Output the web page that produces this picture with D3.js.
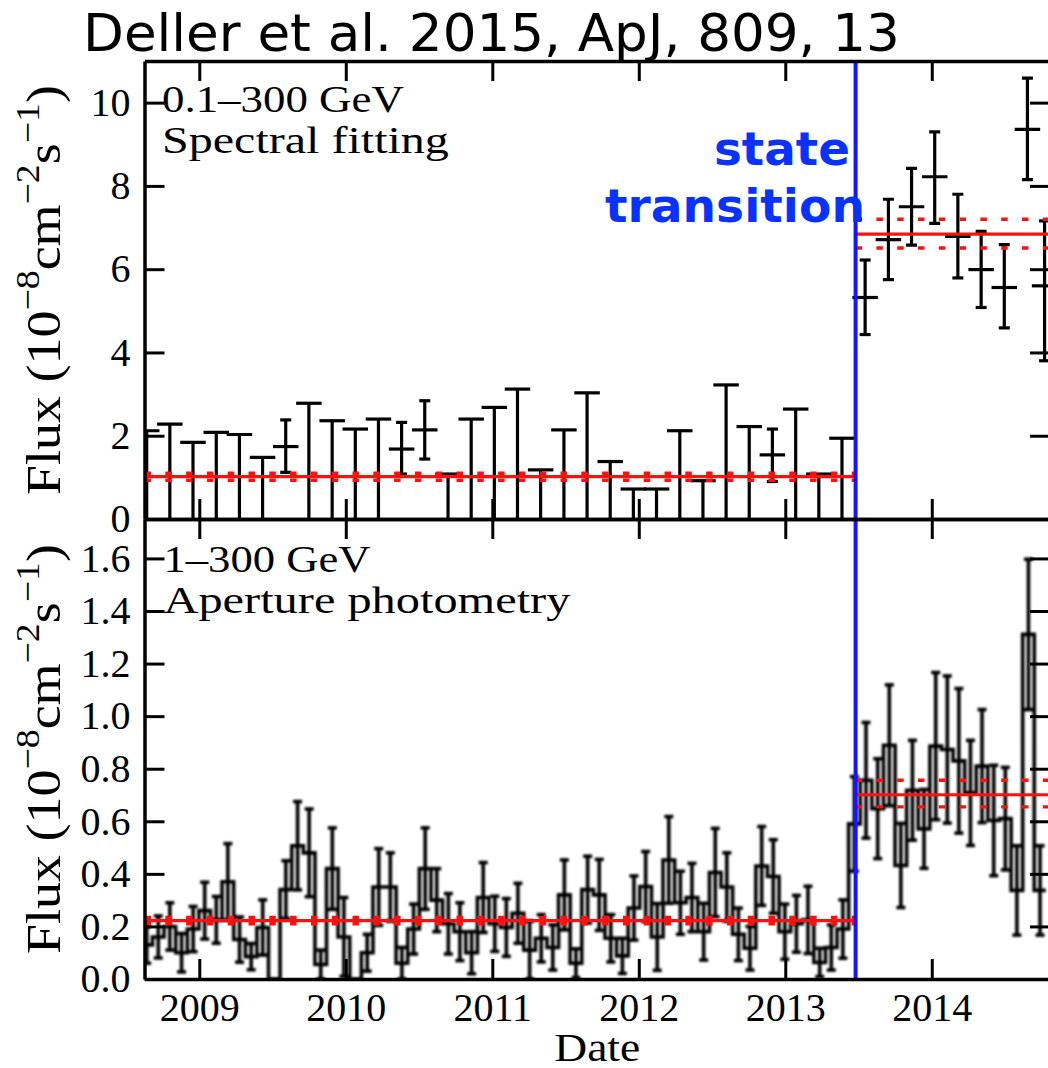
<!DOCTYPE html>
<html>
<head>
<meta charset="utf-8">
<script src="https://cdn.jsdelivr.net/npm/d3@7"></script>
<style>
  html, body { margin: 0; padding: 0; background: #ffffff; }
  svg { display: block; }
</style>
</head>
<body>
<svg id="chart" width="1048" height="1068"></svg>
<script>
// ---------------------------------------------------------------
// Fermi-LAT light curve of the transitional system (two panels)
// ---------------------------------------------------------------

const yearTicks = [2009, 2010, 2011, 2012, 2013, 2014];
const topTicks = [0, 2, 4, 6, 8, 10];
const bottomTicks = [0.0, 0.2, 0.4, 0.6, 0.8, 1.0, 1.2, 1.4, 1.6];
const transitionDate = 2013.48;

// 0.1-300 GeV, spectral fitting (lower == null marks an upper limit)
const specDates = [2008.641, 2008.799, 2008.957, 2009.116, 2009.274, 2009.432, 2009.590, 2009.748,
  2009.907, 2010.065, 2010.223, 2010.381, 2010.539, 2010.698, 2010.856, 2011.014, 2011.172, 2011.330,
  2011.489, 2011.647, 2011.805, 2011.963, 2012.121, 2012.280, 2012.438, 2012.596, 2012.754, 2012.912,
  2013.071, 2013.229, 2013.387, 2013.545, 2013.704, 2013.862, 2014.020, 2014.178, 2014.337, 2014.495,
  2014.653, 2014.770];
const specFlux = [2.12, 2.28, 1.84, 2.08, 2.03, 1.48, 1.74, 2.78, 2.36, 2.16, 2.40, 1.68, 2.14, 1.08,
  2.40, 2.68, 3.12, 1.18, 2.14, 3.03, 1.38, 0.72, 0.72, 2.12, 0.92, 3.22, 2.22, 1.54, 2.64, 1.08, 1.94,
  5.32, 6.71, 7.50, 8.22, 6.79, 5.99, 5.56, 9.36, 5.60];
const specLower = [null, null, null, null, null, null, 1.12, null, null, null, null, 1.08, 1.44, null,
  null, null, null, null, null, null, null, null, null, null, null, null, null, 0.90, null, null, null,
  4.43, 5.75, 6.58, 7.10, 5.79, 5.08, 4.59, 8.15, 3.80];
const specUpper = [null, null, null, null, null, null, 2.38, null, null, null, null, 2.32, 2.84, null,
  null, null, null, null, null, null, null, null, null, null, null, null, null, 2.16, null, null, null,
  6.22, 7.68, 8.42, 9.30, 7.80, 6.91, 6.59, 10.59, 7.16];
const specHalfBin = 0.087;

// 1-300 GeV, aperture photometry, ~monthly bins
const apDates = [2008.641, 2008.720, 2008.799, 2008.879, 2008.958, 2009.037, 2009.116, 2009.195,
  2009.275, 2009.354, 2009.433, 2009.512, 2009.591, 2009.671, 2009.750, 2009.829, 2009.908, 2009.987,
  2010.067, 2010.146, 2010.225, 2010.304, 2010.383, 2010.463, 2010.542, 2010.621, 2010.700, 2010.779,
  2010.859, 2010.938, 2011.017, 2011.096, 2011.175, 2011.255, 2011.334, 2011.413, 2011.492, 2011.571,
  2011.651, 2011.730, 2011.809, 2011.888, 2011.967, 2012.047, 2012.126, 2012.205, 2012.284, 2012.363,
  2012.443, 2012.522, 2012.601, 2012.680, 2012.759, 2012.839, 2012.918, 2012.997, 2013.076, 2013.155,
  2013.235, 2013.314, 2013.393, 2013.472, 2013.551, 2013.631, 2013.710, 2013.789, 2013.868, 2013.947,
  2014.027, 2014.106, 2014.185, 2014.264, 2014.343, 2014.423, 2014.502, 2014.581, 2014.660, 2014.739];
const apFlux = [0.13, 0.16, 0.20, 0.10, 0.19, 0.26, 0.225, 0.37, 0.15, 0.085, 0.196, 0.0, 0.34, 0.507,
  0.48, 0.055, 0.42, 0.16, 0.0, 0.10, 0.35, 0.35, 0.06, 0.19, 0.42, 0.30, 0.21, 0.18, 0.10, 0.31, 0.21,
  0.196, 0.25, 0.11, 0.155, 0.12, 0.32, 0.06, 0.34, 0.32, 0.155, 0.088, 0.27, 0.352, 0.16, 0.453, 0.29,
  0.31, 0.18, 0.405, 0.35, 0.17, 0.117, 0.43, 0.39, 0.18, 0.21, 0.225, 0.063, 0.12, 0.19,
  0.59, 0.756, 0.648, 0.889, 0.432, 0.718, 0.571, 0.886, 0.873, 0.83, 0.708, 0.81, 0.603, 0.61, 0.337,
  1.311, 0.337];
const apErr = [0.07, 0.08, 0.09, 0.073, 0.086, 0.108, 0.089, 0.145, 0.086, 0.05, 0.105, 0.0, 0.11, 0.168,
  0.167, 0.055, 0.155, 0.15, 0.0, 0.07, 0.146, 0.13, 0.06, 0.095, 0.155, 0.12, 0.115, 0.11, 0.08, 0.133,
  0.105, 0.11, 0.114, 0.11, 0.09, 0.086, 0.133, 0.055, 0.127, 0.135, 0.09, 0.067, 0.122, 0.133, 0.127,
  0.165, 0.12, 0.13, 0.108, 0.168, 0.13, 0.10, 0.083, 0.15, 0.14, 0.105, 0.108, 0.128, 0.054, 0.086,
  0.111, 0.18, 0.22, 0.19, 0.23, 0.16, 0.19, 0.15, 0.28, 0.28, 0.275, 0.20, 0.215, 0.21, 0.195, 0.17,
  0.286, 0.17];
const apHalfBin = 0.0396;

// Mean flux before / after the transition, with 1-sigma band
const fitStart = [2008.5, 2013.48];
const fitEnd = [2013.48, 2015.0];
const topFitLevel = [1.02, 6.84];
const topFitLow = [0.93, 6.51];
const topFitHigh = [1.10, 7.20];
const bottomFitLevel = [0.222, 0.701];
const bottomFitLow = [0.210, 0.655];
const bottomFitHigh = [0.234, 0.756];

// ---------------------------------------------------------------
const svg = d3.select("#chart");
const plotLeft = 144.5, plotRight = 1050;
const top0 = 61, mid = 519, bottom0 = 979;
const serif = "'Liberation Serif', 'Times New Roman', serif";
const sans = "'DejaVu Sans', sans-serif";
const red = "#ff1010";

const x = d3.scaleLinear().domain([2008.626, 2014.807]).range([plotLeft, plotRight]);
const yTop = d3.scaleLinear().domain([0, 11]).range([mid, top0]);
const yBot = d3.scaleLinear().domain([0, 1.75]).range([bottom0, mid]);

const defs = svg.append("defs");
function clipRect(id, y0, y1) {
  defs.append("clipPath").attr("id", id).append("rect")
    .attr("x", plotLeft).attr("y", y0).attr("width", plotRight - plotLeft).attr("height", y1 - y0);
}
clipRect("clipTop", top0, mid);
clipRect("clipBot", mid, bottom0);
// the densely packed monthly bars merge into grey at print resolution
defs.append("filter").attr("id", "soft").attr("x", "-5%").attr("y", "-5%")
  .attr("width", "110%").attr("height", "110%")
  .append("feGaussianBlur").attr("stdDeviation", 0.9);

// ---------- top panel: spectral fitting ----------
const spec = specDates.map((d, i) => ({
  t: d, v: specFlux[i], lo: specLower[i], hi: specUpper[i], ul: specLower[i] === null
}));
const gTop = svg.append("g").attr("clip-path", "url(#clipTop)")
  .attr("stroke", "#000").attr("stroke-width", 3.2).attr("fill", "none");

const specG = gTop.selectAll("g.pt").data(spec).join("g").attr("class", "pt");
// vertical: from zero to the limit, or the error range
specG.append("line")
  .attr("x1", d => x(d.t)).attr("x2", d => x(d.t))
  .attr("y1", d => d.ul ? yTop(0) : yTop(d.lo))
  .attr("y2", d => d.ul ? yTop(d.v) : yTop(d.hi));
// horizontal bin bar
specG.append("line")
  .attr("x1", d => x(d.t - specHalfBin)).attr("x2", d => x(d.t + specHalfBin))
  .attr("y1", d => yTop(d.v)).attr("y2", d => yTop(d.v));
// error caps for detections
const detG = specG.filter(d => !d.ul);
["lo", "hi"].forEach(k => {
  detG.append("line")
    .attr("x1", d => x(d.t) - 5.5).attr("x2", d => x(d.t) + 5.5)
    .attr("y1", d => yTop(d[k])).attr("y2", d => yTop(d[k]));
});

// ---------- bottom panel: aperture photometry ----------
const ap = apDates.map((d, i) => ({ t: d, v: apFlux[i], e: apErr[i] }));
const gBotClip = svg.append("g").attr("clip-path", "url(#clipBot)");
const gBot = gBotClip.append("g").attr("filter", "url(#soft)")
  .attr("stroke", "#000").attr("stroke-width", 3.6).attr("fill", "none");

const stepPts = [];
ap.forEach(d => { stepPts.push([d.t - apHalfBin, d.v]); stepPts.push([d.t + apHalfBin, d.v]); });
gBot.append("path")
  .attr("d", d3.line().x(p => x(p[0])).y(p => yBot(p[1]))(stepPts))
  .attr("stroke-linejoin", "miter");

const apG = gBot.selectAll("g.ap").data(ap.filter(d => d.e > 0)).join("g").attr("class", "ap");
apG.append("line")
  .attr("x1", d => x(d.t)).attr("x2", d => x(d.t))
  .attr("y1", d => yBot(Math.max(0, d.v - d.e))).attr("y2", d => yBot(d.v + d.e));
apG.append("line")
  .attr("x1", d => x(d.t) - 4.5).attr("x2", d => x(d.t) + 4.5)
  .attr("y1", d => yBot(d.v + d.e)).attr("y2", d => yBot(d.v + d.e));
apG.append("line")
  .attr("x1", d => x(d.t) - 4.5).attr("x2", d => x(d.t) + 4.5)
  .attr("y1", d => yBot(Math.max(0, d.v - d.e))).attr("y2", d => yBot(Math.max(0, d.v - d.e)));

// ---------- mean levels (solid) and their bands (dotted) ----------
function fitLines(g, y, level, low, high) {
  fitStart.forEach((s, i) => {
    g.append("line").attr("x1", x(s)).attr("x2", x(fitEnd[i]))
      .attr("y1", y(level[i])).attr("y2", y(level[i]))
      .attr("stroke", red).attr("stroke-width", 3.2);
    [low[i], high[i]].forEach(v => {
      g.append("line").attr("x1", x(Math.max(s, 2008.626))).attr("x2", x(fitEnd[i]))
        .attr("y1", y(v)).attr("y2", y(v))
        .attr("stroke", red).attr("stroke-width", 3.4)
        .attr("stroke-dasharray", "6.5 14.3");
    });
  });
}
fitLines(gTop, yTop, topFitLevel, topFitLow, topFitHigh);
fitLines(gBotClip, yBot, bottomFitLevel, bottomFitLow, bottomFitHigh);

// ---------- transition marker ----------
svg.append("line")
  .attr("x1", x(transitionDate)).attr("x2", x(transitionDate))
  .attr("y1", top0 - 1).attr("y2", bottom0)
  .attr("stroke", "#1414ff").attr("stroke-width", 4);

// ---------- axes / frame ----------
function styleAxis(g) {
  g.selectAll(".domain").attr("stroke", "#000").attr("stroke-width", 3.5);
  g.selectAll(".tick line").attr("stroke", "#000").attr("stroke-width", 3);
  g.selectAll(".tick text").attr("font-family", serif).attr("font-size", 40).attr("fill", "#000");
}
const noLabel = () => "";

// top panel
svg.append("g").attr("transform", `translate(${plotLeft},0)`)
  .call(d3.axisLeft(yTop).tickValues(topTicks).tickSize(-20).tickSizeOuter(0).tickPadding(14)
    .tickFormat(d3.format("d")))
  .call(styleAxis);
svg.append("g").attr("transform", `translate(${plotRight},0)`)
  .call(d3.axisRight(yTop).tickValues(topTicks).tickSize(-20).tickSizeOuter(0).tickFormat(noLabel))
  .call(styleAxis);
svg.append("g").attr("transform", `translate(0,${top0})`)
  .call(d3.axisTop(x).tickValues(yearTicks).tickSize(-20).tickSizeOuter(0).tickFormat(noLabel))
  .call(styleAxis);
svg.append("g").attr("transform", `translate(0,${mid})`)
  .call(d3.axisBottom(x).tickValues(yearTicks).tickSize(-20).tickSizeOuter(0).tickFormat(noLabel))
  .call(styleAxis);

// bottom panel
svg.append("g").attr("transform", `translate(${plotLeft},0)`)
  .call(d3.axisLeft(yBot).tickValues(bottomTicks).tickSize(-20).tickSizeOuter(0).tickPadding(14)
    .tickFormat(d3.format(".1f")))
  .call(styleAxis);
svg.append("g").attr("transform", `translate(${plotRight},0)`)
  .call(d3.axisRight(yBot).tickValues(bottomTicks).tickSize(-20).tickSizeOuter(0).tickFormat(noLabel))
  .call(styleAxis);
svg.append("g").attr("transform", `translate(0,${mid})`)
  .call(d3.axisTop(x).tickValues(yearTicks).tickSize(-20).tickSizeOuter(0).tickFormat(noLabel))
  .call(styleAxis);
svg.append("g").attr("transform", `translate(0,${bottom0})`)
  .call(d3.axisBottom(x).tickValues(yearTicks).tickSize(-20).tickSizeOuter(0).tickPadding(14)
    .tickFormat(d3.format("d")))
  .call(styleAxis);

// ---------- text ----------
// place a text item and stretch it horizontally to a given advance width
function label(px, py, str, opts) {
  const g = svg.append("g").attr("transform", `translate(${px},${py})` + (opts.rotate ? ` rotate(${opts.rotate})` : ""));
  const t = g.append("text").attr("x", 0).attr("y", 0)
    .attr("font-family", opts.family).attr("font-size", opts.size)
    .attr("font-weight", opts.weight || "normal")
    .attr("fill", opts.fill || "#000")
    .attr("text-anchor", opts.anchor || "start");
  if (typeof str === "string") t.text(str); else str(t, opts.size);
  if (opts.width) {
    const w = t.node().getComputedTextLength();
    t.attr("transform", `scale(${opts.width / w},1)`);
  }
  return g;
}

function fluxUnit(t, size) {
  const sup = size * 0.7, rise = size * 0.42;
  const parts = [["Flux (10", 0, size], ["\u22128", -rise, sup], ["cm", rise, size],
                 ["\u22122", -rise, sup], ["s", rise, size], ["\u22121", -rise, sup], [")", rise, size]];
  parts.forEach(([s, dy, fs]) => t.append("tspan").attr("dy", dy).attr("font-size", fs).text(s));
}

label(83, 51, "Deller et al. 2015, ApJ, 809, 13", { family: sans, size: 52, width: 817 });

label(714, 165, "state", { family: sans, size: 46, weight: "bold", fill: "#0a32ff", width: 136 });
label(605, 222, "transition", { family: sans, size: 46, weight: "bold", fill: "#0a32ff", width: 260 });

label(162, 112, "0.1\u2013300 GeV", { family: serif, size: 38, width: 242 });
label(162, 153, "Spectral fitting", { family: serif, size: 38, width: 287 });
label(163.5, 572, "1\u2013300 GeV", { family: serif, size: 38, width: 207 });
label(163.5, 613, "Aperture photometry", { family: serif, size: 38, width: 407 });

label(60, (top0 + mid) / 2, fluxUnit, { family: serif, size: 49, anchor: "middle", rotate: -90, width: 410 });
label(60, (mid + bottom0) / 2, fluxUnit, { family: serif, size: 49, anchor: "middle", rotate: -90, width: 410 });

label((plotLeft + plotRight) / 2, 1061, "Date", { family: serif, size: 40, anchor: "middle", width: 86 });
</script>
</body>
</html>
